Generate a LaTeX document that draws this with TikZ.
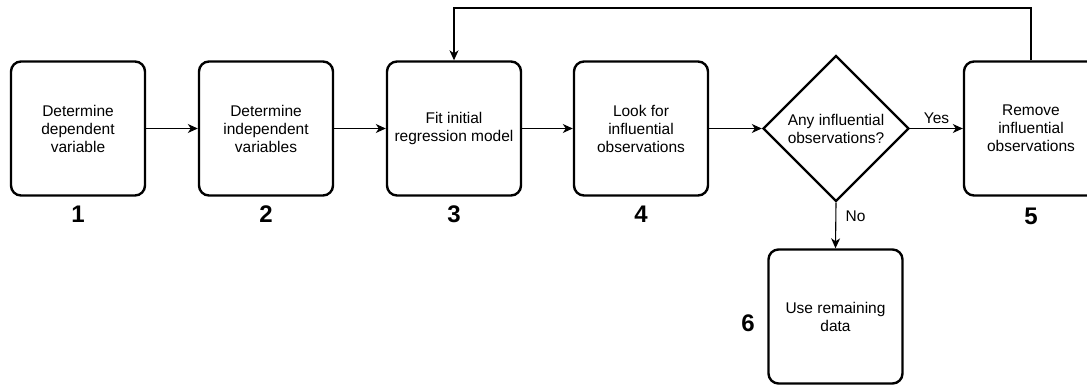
\documentclass[tikz,border=0pt]{standalone}
\usepackage{fontspec}
\setmainfont{Liberation Sans}
\usetikzlibrary{shapes.geometric,arrows.meta}
\begin{document}
\begin{tikzpicture}[x=1pt,y=-1pt,
  stepbox/.style={draw,line width=2.4pt,rounded corners=10pt,minimum width=134pt,minimum height=134pt,
    align=center,inner sep=2pt,font=\fontsize{15.5}{18}\selectfont},
  decision/.style={draw,diamond,line width=2.4pt,minimum width=146pt,minimum height=146pt,
    align=center,inner sep=0pt,font=\fontsize{15.5}{18}\selectfont},
  num/.style={font=\fontsize{24}{28}\bfseries\selectfont},
  lbl/.style={font=\fontsize{15.5}{18}\selectfont},
  flow/.style={line width=1.1pt,-{Stealth[length=10pt,width=9pt,inset=3pt]}}]
\useasboundingbox (0,0) rectangle (1087,385);
\node[stepbox] (s1) at (78,128.5) {Determine\\dependent\\variable};
\node[stepbox] (s2) at (266,128.5) {Determine\\independent\\variables};
\node[stepbox] (s3) at (454,128.5) {Fit initial\\regression model};
\node[stepbox] (s4) at (641,128.5) {Look for\\influential\\observations};
\node[decision] (d) at (836,128.5) {Any influential\\observations?};
\node[stepbox] (s5) at (1031,128.5) {Remove\\influential\\observations};
\node[stepbox] (s6) at (835.5,316.5) {Use remaining\\data};
\node[num] (n1) at (78,214) {1};
\node[num] (n2) at (266,214) {2};
\node[num] (n3) at (454,214) {3};
\node[num] (n4) at (641,214) {4};
\node[num] (n5) at (1031,216) {5};
\node[num] (n6) at (748,323) {6};
\draw[flow] (s1) -- (s2);
\draw[flow] (s2) -- (s3);
\draw[flow] (s3) -- (s4);
\draw[flow] (s4) -- (d.west);
\draw[flow] (d.east) -- node[lbl,above=1pt,pos=0.5] (yes) {Yes} (s5.west);
\draw[flow] (d.south) -- node[lbl,right=6pt,pos=0.3] (no) {No} (s6.north);
\coordinate (top) at (0,8);
\draw[flow] (s5.north) -- (s5.north |- top) -- (s3.north |- top) -- (s3.north);
\end{tikzpicture}
\end{document}
